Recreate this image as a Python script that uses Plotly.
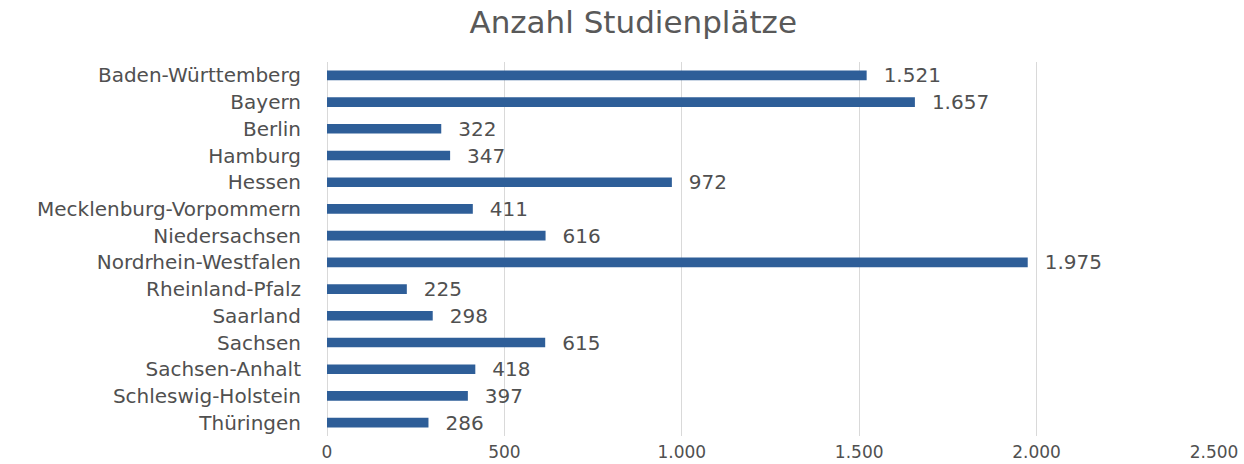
import plotly.graph_objects as go

states = ["Baden-Württemberg", "Bayern", "Berlin", "Hamburg", "Hessen",
          "Mecklenburg-Vorpommern", "Niedersachsen", "Nordrhein-Westfalen",
          "Rheinland-Pfalz", "Saarland", "Sachsen", "Sachsen-Anhalt",
          "Schleswig-Holstein", "Thüringen"]
places = [1521, 1657, 322, 347, 972, 411, 616, 1975, 225, 298, 615, 418, 397, 286]
tick_vals = [0, 500, 1000, 1500, 2000, 2500]
tick_text = ["0", "500", "1.000", "1.500", "2.000", "2.500"]

FONT = "DejaVu Sans"
TXT = "#505050"
fig = go.Figure(go.Bar(
    x=places, y=states, orientation="h",
    marker=dict(color="#2E5E98", line=dict(width=0)),
    text=[f"{v:,}".replace(",", ".") for v in places],
    texttemplate="\u2002\u2009%{text}",
    textposition="outside", cliponaxis=False, constraintext="none",
    textfont=dict(family=FONT, size=20, color=TXT),
    width=0.36,
))
fig.update_layout(
    width=1244, height=464,
    margin=dict(l=327, r=30, t=62, b=28, autoexpand=False),
    paper_bgcolor="white", plot_bgcolor="white",
    showlegend=False,
    uniformtext=dict(mode=False),
    title=dict(text="Anzahl Studienplätze", x=0.509, xanchor="center", y=0.953, yanchor="middle",
               font=dict(family=FONT, size=31, color="#595959")),
    font=dict(family=FONT, color=TXT),
)
fig.update_xaxes(range=[0, 2500], tickvals=tick_vals, ticktext=tick_text,
                 showgrid=True, gridcolor="#D9D9D9", gridwidth=1,
                 zeroline=True, zerolinecolor="#D9D9D9", zerolinewidth=1,
                 ticks="outside", ticklen=1, tickcolor="rgba(0,0,0,0)",
                 tickfont=dict(family=FONT, size=17, color=TXT), showline=False,
                 automargin=False)
fig.update_yaxes(autorange="reversed", categoryorder="array", categoryarray=states,
                 ticks="outside", ticklen=21, tickcolor="rgba(0,0,0,0)",
                 tickfont=dict(family=FONT, size=20, color=TXT), showgrid=False,
                 automargin=False)
fig.write_html("out.html", config={"displayModeBar": False},
               post_script="document.body.style.margin='0';document.body.style.overflow='hidden';")
